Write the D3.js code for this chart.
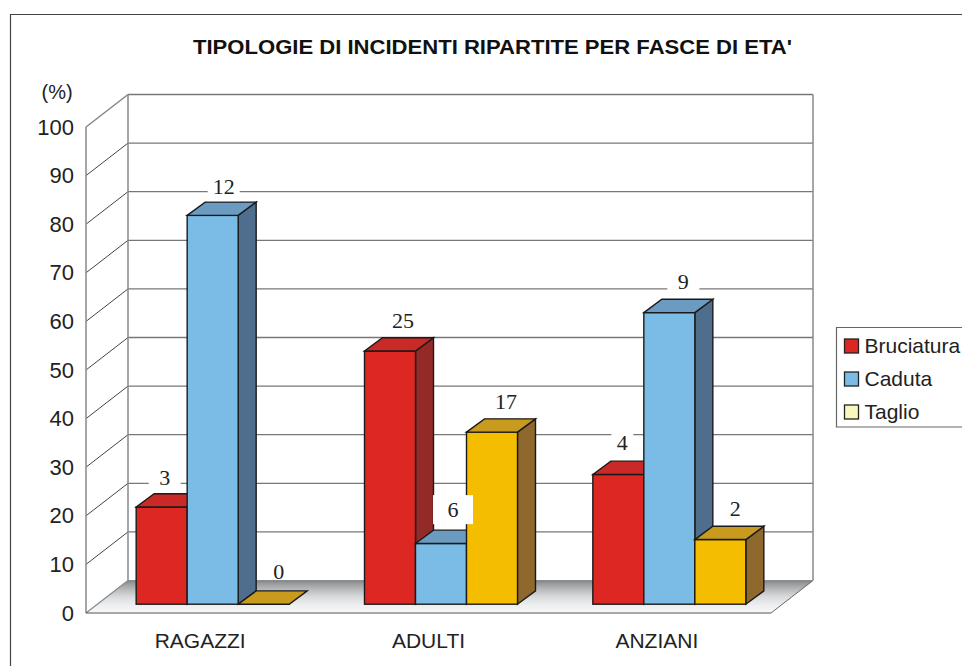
<!DOCTYPE html>
<html>
<head>
<meta charset="utf-8">
<script src="https://cdnjs.cloudflare.com/ajax/libs/d3/7.8.5/d3.min.js"></script>
<style>
html,body{margin:0;padding:0;background:#fff;overflow:hidden}
svg{display:block}
text{font-family:"Liberation Sans",Arial,sans-serif;fill:#222}
.num{font-family:"Liberation Serif","Times New Roman",serif;font-size:22px;fill:#222}
</style>
</head>
<body>
<svg id="c" width="962" height="666"></svg>
<script>
const titleText = "TIPOLOGIE DI INCIDENTI RIPARTITE PER FASCE DI ETA'";
const unitLabel = "(%)";
const categories = ["RAGAZZI", "ADULTI", "ANZIANI"];
const seriesNames = ["Bruciatura", "Caduta", "Taglio"];
const tickValues = [0, 10, 20, 30, 40, 50, 60, 70, 80, 90, 100];
const bruciatura = [20, 52.1, 26.7];
const caduta = [80, 12.5, 60];
const taglio = [0, 35.4, 13.3];
const bruciaturaCounts = [3, 25, 4];
const cadutaCounts = [12, 6, 9];
const taglioCounts = [0, 17, 2];

const seriesValues = [bruciatura, caduta, taglio];
const seriesCounts = [bruciaturaCounts, cadutaCounts, taglioCounts];
const palette = [
  {front:"#dc2723", top:"#c92a27", side:"#932a28", legend:"#dc2723"},
  {front:"#7abce6", top:"#6c9bc1", side:"#4f6d8c", legend:"#7abce6"},
  {front:"#f4bd00", top:"#c89a1e", side:"#8e682d", legend:"#f9f6c0"}
];
/* label placement relative to the bar centre, [series][category] */
const labelDx = [[3,13,4],[11,12,14],[15,14,15]];
const labelDy = [[-9,-10,-11],[-8,-13,-10],[-12,-10,-10]];
const boxHalf = [[16,0,11],[16,20,16],[0,0,0]];

const svg = d3.select("#c");
const W = 962;
const wallDx = 42, wallDy = 32.5;
const barDx = 18, barDy = 13.3;
const baseDx = 12.5, baseDy = 8.8;
const groupW = 153;

const x = d3.scaleBand().domain(categories).range([86, 771]);
const xi = d3.scaleBand().domain(d3.range(seriesNames.length)).range([0, groupW]);
const y = d3.scaleLinear().domain([0, 100]).range([613, 127]);

/* outer frame: left and top only */
svg.append("path").attr("d", `M10.5 666V14.5H${W}`).attr("fill", "none").attr("stroke", "#444").attr("stroke-width", 1.2);

/* title */
svg.append("text").attr("x", 193).attr("y", 54).attr("font-size", 21).attr("font-weight", "bold")
  .attr("textLength", 599).attr("lengthAdjust", "spacingAndGlyphs").style("fill", "#111").text(titleText);
svg.append("text").attr("x", 41.5).attr("y", 99).attr("font-size", 20).text(unitLabel);

/* floor gradient */
const defs = svg.append("defs");
const g = defs.append("linearGradient").attr("id", "floor").attr("x1", 0).attr("x2", 0).attr("y1", 0).attr("y2", 1);
[[0,"#808285"],[0.1,"#9a9c9e"],[0.3,"#bcbdbf"],[0.5,"#d9dadc"],[0.75,"#edeeef"],[1,"#f9f9fa"]]
  .forEach(s => g.append("stop").attr("offset", s[0]).attr("stop-color", s[1]));

const x0 = x.range()[0], x1 = x.range()[1];
const y0 = y(0), yTop = y(100);

/* floor */
svg.append("path")
  .attr("d", `M${x0} ${y0}L${x0+wallDx} ${y0-wallDy}H${x1+wallDx}L${x1} ${y0}Z`)
  .attr("fill", "url(#floor)");

/* gridlines on the back and side walls */
const grid = svg.append("g");
tickValues.forEach(t => {
  const yy = y(t);
  if (t > 0) {
    grid.append("line").attr("x1", x0).attr("y1", yy).attr("x2", x0+wallDx).attr("y2", yy-wallDy)
      .attr("stroke", t === 100 ? "#7f8488" : "#444").attr("stroke-width", t === 100 ? 1.4 : 1);
    grid.append("line").attr("x1", x0+wallDx).attr("y1", yy-wallDy).attr("x2", x1+wallDx).attr("y2", yy-wallDy)
      .attr("stroke", "#777").attr("stroke-width", 1.3);
  }
});
const wallStroke = "#858a8e";
grid.append("line").attr("x1", x0).attr("y1", yTop).attr("x2", x0).attr("y2", y0).attr("stroke", wallStroke).attr("stroke-width", 1.5);
grid.append("line").attr("x1", x0+wallDx).attr("y1", yTop-wallDy).attr("x2", x0+wallDx).attr("y2", y0-wallDy).attr("stroke", wallStroke).attr("stroke-width", 1.5);
grid.append("line").attr("x1", x1+wallDx).attr("y1", yTop-wallDy).attr("x2", x1+wallDx).attr("y2", y0-wallDy).attr("stroke", wallStroke).attr("stroke-width", 1.5);
grid.append("line").attr("x1", x0).attr("y1", y0).attr("x2", x0+wallDx).attr("y2", y0-wallDy).attr("stroke", wallStroke).attr("stroke-width", 1.2);
grid.append("line").attr("x1", x1).attr("y1", y0).attr("x2", x1+wallDx).attr("y2", y0-wallDy).attr("stroke", "#666").attr("stroke-width", 1);
grid.append("line").attr("x1", x0+wallDx).attr("y1", y0-wallDy).attr("x2", x1+wallDx).attr("y2", y0-wallDy).attr("stroke", "#8a8d90").attr("stroke-width", 1);
grid.append("line").attr("x1", x0).attr("y1", y0).attr("x2", x1).attr("y2", y0).attr("stroke", "#555").attr("stroke-width", 1.2);

/* axes */
const yAxis = d3.axisLeft(y).tickValues(tickValues).tickSize(0).tickPadding(12);
const ya = svg.append("g").attr("transform", `translate(${x0},0)`).call(yAxis);
ya.select(".domain").remove();
ya.selectAll("text").attr("font-size", 22).attr("font-family", "Liberation Sans").style("fill", "#222");

const xAxis = d3.axisBottom(x).tickSize(0).tickPadding(20);
const xa = svg.append("g").attr("transform", `translate(0,${y0})`).call(xAxis);
xa.select(".domain").remove();
xa.selectAll("text").attr("font-size", 21).attr("font-family", "Liberation Sans").style("fill", "#222");

/* bars */
const barX = (ci, si) => x(categories[ci]) + x.bandwidth()/2 - groupW/2 + baseDx + xi(si);
const barBase = y(0) - baseDy;
const bars = svg.append("g");
const labelLayer = svg.append("g");
const stroke = "#1a1a1a";
seriesValues.forEach((vals, si) => {
  vals.forEach((v, ci) => {
    const bx = barX(ci, si), bw = xi.bandwidth();
    const ty = y(v) - baseDy;
    const c = palette[si];
    const gb = bars.append("g").attr("stroke", stroke).attr("stroke-width", 1.4).attr("stroke-linejoin", "miter");
    if (v > 0) {
      gb.append("path").attr("fill", c.side)
        .attr("d", `M${bx+bw} ${ty}L${bx+bw+barDx} ${ty-barDy}V${barBase-barDy}L${bx+bw} ${barBase}Z`);
      gb.append("rect").attr("x", bx).attr("y", ty).attr("width", bw).attr("height", barBase-ty).attr("fill", c.front);
    }
    gb.append("path").attr("fill", c.top)
      .attr("d", `M${bx} ${ty}L${bx+barDx} ${ty-barDy}H${bx+bw+barDx}L${bx+bw} ${ty}Z`);

    const lx = bx + bw/2 + labelDx[si][ci];
    const ly = ty - barDy + labelDy[si][ci];
    const h = boxHalf[si][ci];
    if (h > 0) {
      labelLayer.append("rect").attr("x", lx-h).attr("y", ly-22).attr("width", 2*h).attr("height", 29).attr("fill", "#fff");
    }
    labelLayer.append("text").attr("class", "num").attr("x", lx).attr("y", ly)
      .attr("text-anchor", "middle").text(seriesCounts[si][ci]);
  });
});

/* legend */
const lg = svg.append("g");
lg.append("path").attr("d", `M${W} 327.5H836.5V427H${W}`).attr("fill", "#fff").attr("stroke", "#666").attr("stroke-width", 1.2);
const ly = d3.scalePoint().domain(seriesNames).range([346, 412]);
seriesNames.forEach((n, i) => {
  lg.append("rect").attr("x", 844.5).attr("y", ly(n)-7).attr("width", 14).attr("height", 14)
    .attr("fill", palette[i].legend).attr("stroke", "#222").attr("stroke-width", 1.3);
  lg.append("text").attr("x", 864.5).attr("y", ly(n)+7).attr("font-size", 21).text(n);
});
</script>
</body>
</html>
